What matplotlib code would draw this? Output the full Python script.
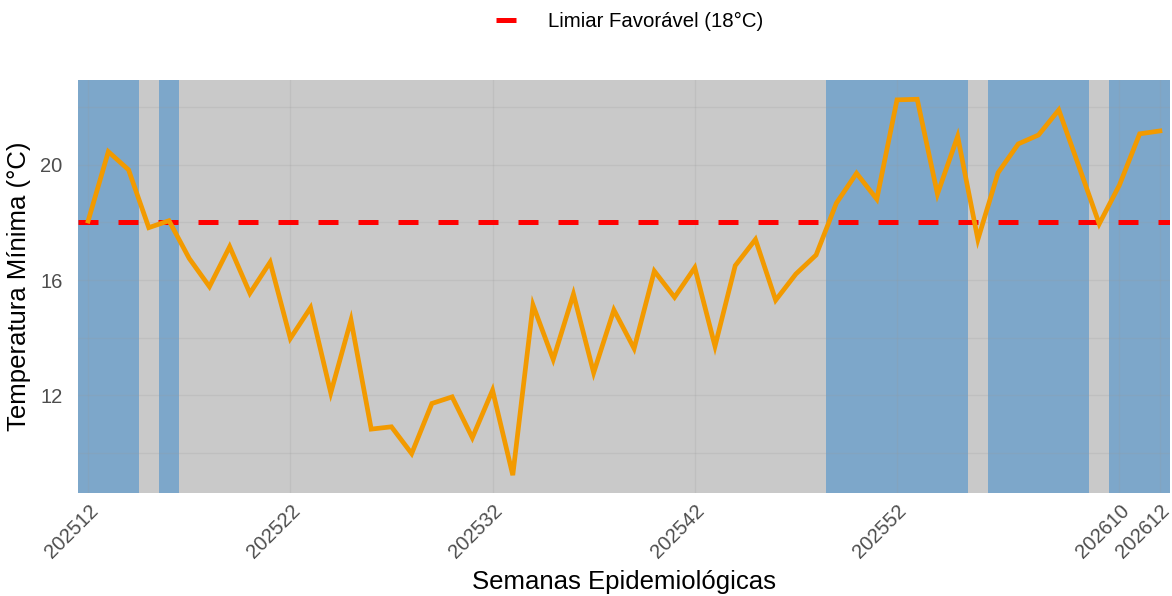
import numpy as np
import matplotlib.pyplot as plt
from matplotlib.lines import Line2D

plt.rcParams['font.family'] = ['Liberation Sans', 'DejaVu Sans']

# semanas epidemiologicas (2025 tem 53 semanas)
semanas = [f"2025{w:02d}" for w in range(12, 54)] + [f"2026{w:02d}" for w in range(1, 13)]
tmin = [18.05, 20.46, 19.83, 17.82, 18.06, 16.75, 15.77, 17.16, 15.54, 16.62,
        13.97, 15.04, 12.08, 14.61, 10.82, 10.90, 9.97, 11.71, 11.94, 10.52,
        12.17, 9.22, 15.13, 13.24, 15.51, 12.78, 14.96, 13.62, 16.31, 15.40,
        16.43, 13.70, 16.50, 17.41, 15.30, 16.21, 16.87, 18.67, 19.71, 18.81,
        22.26, 22.28, 18.99, 20.99, 17.41, 19.73, 20.73, 21.04, 21.91, 19.94,
        17.95, 19.30, 21.08, 21.18]
limiar = 18
tick_labels = ["202512", "202522", "202532", "202542", "202552", "202610", "202612"]
y_ticks = [12, 16, 20]

x = np.arange(len(semanas))
fav = np.array(tmin) >= limiar

fig = plt.figure(figsize=(11.72, 5.96), dpi=100)
ax = fig.add_axes([78/1172, 1 - 493/596, (1170 - 78)/1172, (493 - 80)/596])

for i in x:
    if fav[i]:
        ax.axvspan(i - 0.5, i + 0.5, color='steelblue', alpha=0.7, lw=0, zorder=0)
    else:
        ax.axvspan(i - 0.5, i + 0.5, color='#C9C9C9', lw=0, zorder=0)

for yv in np.arange(10, 23, 2):
    ax.axhline(yv, color='#9a9a9a', alpha=0.2, lw=1, zorder=1)
tick_pos = [semanas.index(t) for t in tick_labels]
for xv in tick_pos:
    ax.axvline(xv, color='#9a9a9a', alpha=0.2, lw=1, zorder=1)

ax.axhline(limiar, color='#FF0000', lw=3.6, dashes=(4, 4), zorder=2)
ax.plot(x, tmin, color='#F29A00', lw=3.4, zorder=3, solid_joinstyle='miter')

ax.set_xlim(-0.5, len(semanas) - 0.5)
ax.set_ylim(8.6, 22.95)
ax.set_xticks(tick_pos)
ax.set_xticklabels(tick_labels, rotation=45, ha='right', va='top', rotation_mode='anchor',
                   fontsize=14.5, color='#4D4D4D')
ax.set_yticks(y_ticks)
ax.set_yticklabels([str(v) for v in y_ticks], fontsize=14.5, color='#4D4D4D')
ax.tick_params(axis='x', length=0, pad=6)
ax.tick_params(axis='y', length=0, pad=11)
for s in ax.spines.values():
    s.set_visible(False)

ax.set_xlabel("Semanas Epidemiológicas", fontsize=18.5, labelpad=6)
ax.set_ylabel("Temperatura Mínima (°C)", fontsize=18.5, labelpad=7)

handle = Line2D([], [], color='#FF0000', lw=3.6, dashes=(4, 4))
fig.legend([handle], ["Limiar Favorável (18°C)"], loc='upper center',
           bbox_to_anchor=(0.537, 1.01), frameon=False, fontsize=14.7,
           handlelength=1.3, handletextpad=1.25)

fig.savefig("out.png", dpi=100)
